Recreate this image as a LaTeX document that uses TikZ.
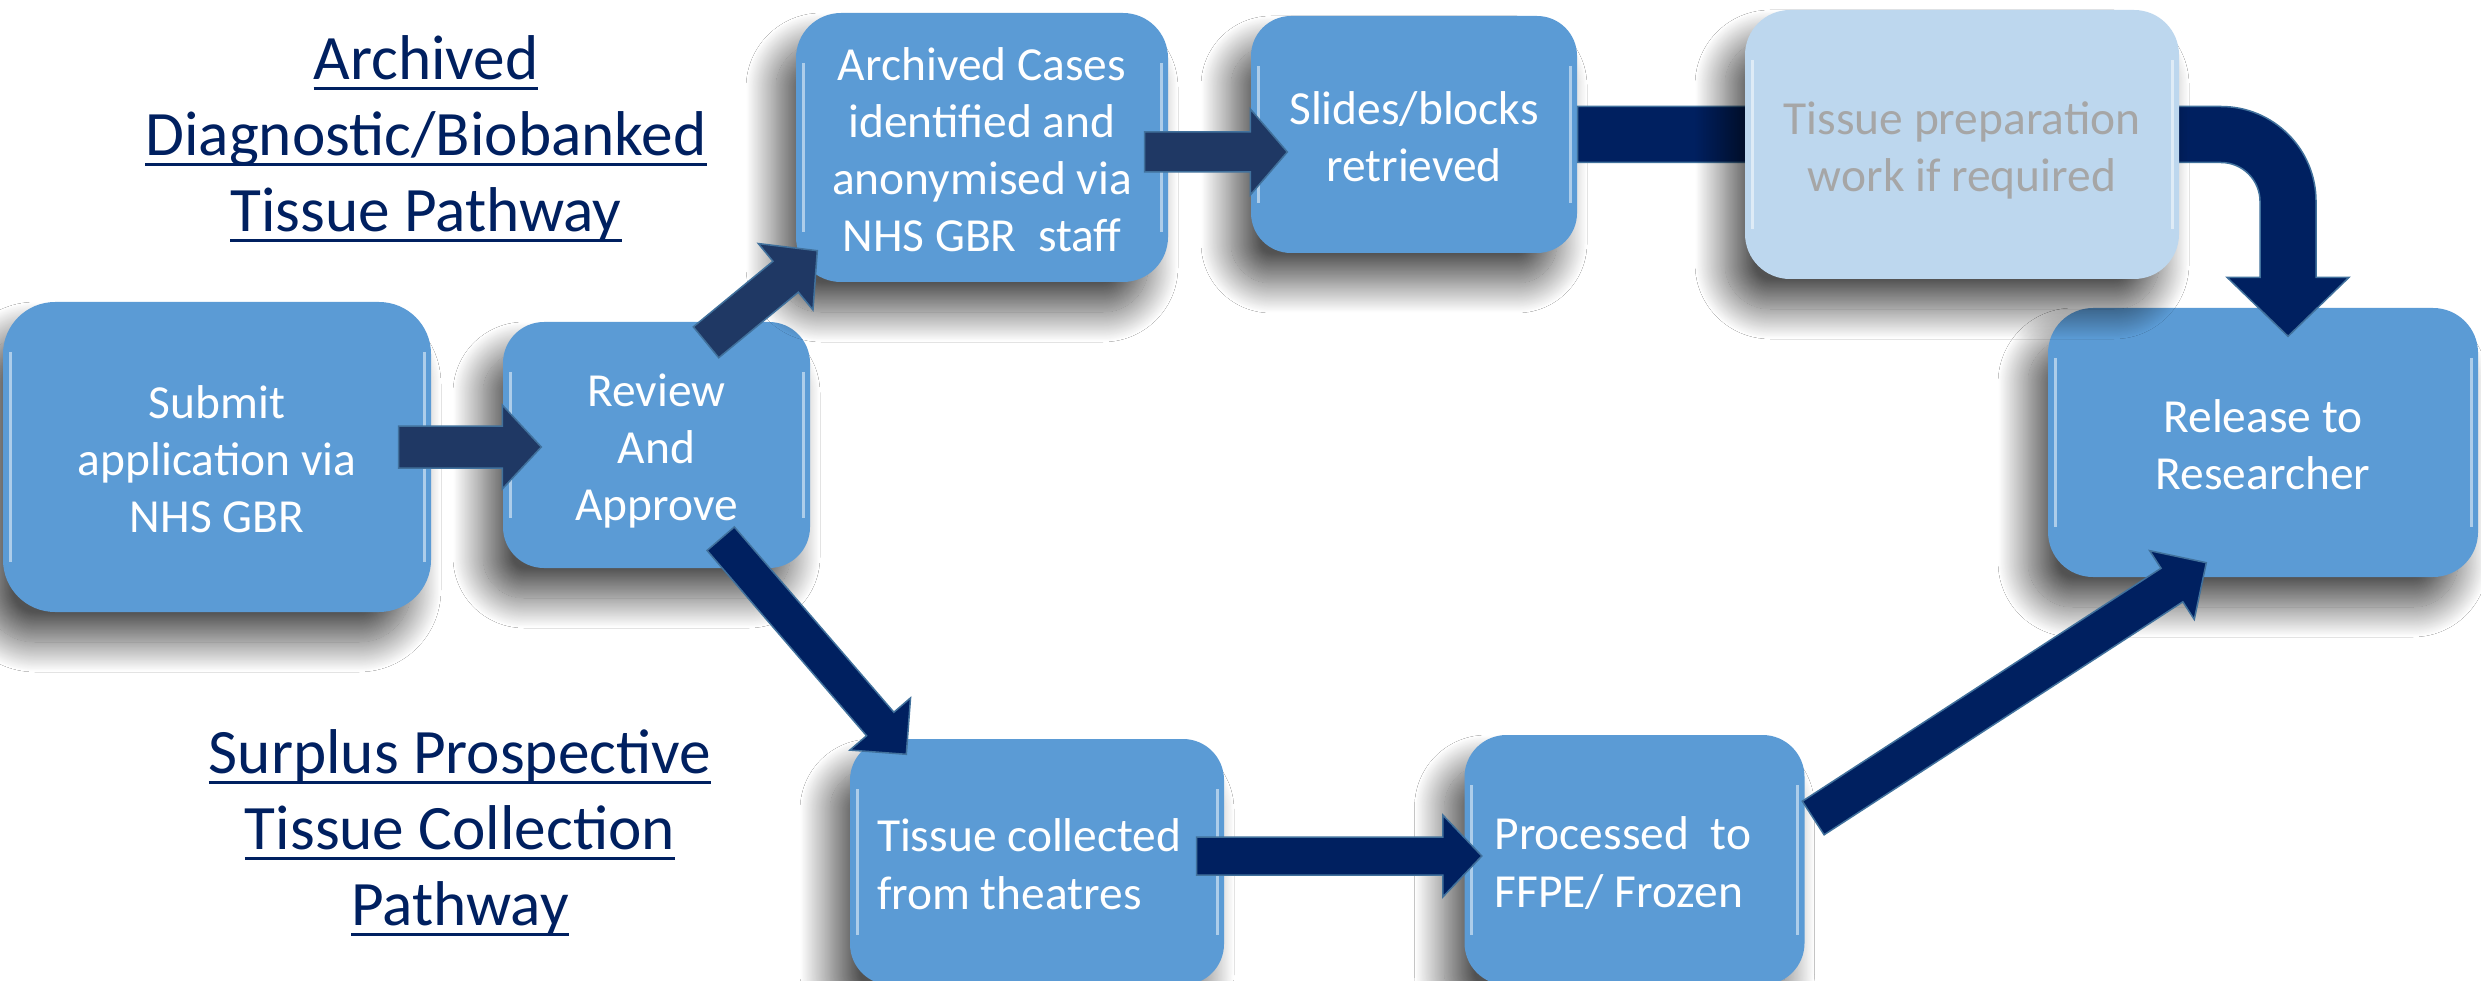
\documentclass[tikz,border=0pt]{standalone}
\usepackage{fontspec}
\setmainfont{Carlito}
\usetikzlibrary{calc,shadows.blur}
\definecolor{boxblue}{HTML}{5B9BD5}
\definecolor{boxlight}{HTML}{BDD7EE}
\definecolor{navy}{HTML}{002060}
\definecolor{slate}{HTML}{1F3864}
\definecolor{edgeblue}{HTML}{41719C}
\definecolor{greytext}{HTML}{A6A6A6}
\newcommand\bxfont{\fontsize{13.5pt}{16.3pt}\selectfont}
\newcommand\hdfont{\fontsize{18pt}{21.6pt}\selectfont}
\newcommand\tstrut{\rule{0pt}{15.4pt}}
\newcommand\dstrut{\rule[-4.9pt]{0pt}{4.9pt}}
\newcommand\hdul[1]{\setbox0\hbox{#1}\rlap{\rule[-3.1pt]{\wd0}{0.9pt}}\box0\strut}
\newcommand\blockarrow[6]{%
  \coordinate (bahead) at ($(#3)!#6!(#2)$);
  \draw[#1] ($(#2)!#4!90:(#3)$) -- ($(bahead)!#4!90:(#3)$) -- ($(bahead)!#5!90:(#3)$)
    -- (#3) -- ($(bahead)!#5!-90:(#3)$) -- ($(bahead)!#4!-90:(#3)$) -- ($(#2)!#4!-90:(#3)$) -- cycle;}
\tikzset{
  procbox/.style={rectangle, fill=boxblue, text=white, font=\bxfont, align=center, inner sep=0pt,
    blur shadow={shadow xshift=-2mm, shadow yshift=-3mm, shadow blur radius=3mm, shadow blur steps=40, shadow opacity=68},
    path picture={
      \draw[white,opacity=0.5,line width=0.3mm]
        ([xshift=0.7mm,yshift=-5mm]path picture bounding box.north west) --
        ([xshift=0.7mm,yshift=5mm]path picture bounding box.south west);
      \draw[white,opacity=0.5,line width=0.3mm]
        ([xshift=-0.7mm,yshift=-5mm]path picture bounding box.north east) --
        ([xshift=-0.7mm,yshift=5mm]path picture bounding box.south east);}},
  lightbox/.style={procbox, fill=boxlight, text=greytext},
  header/.style={text=navy, font=\hdfont, align=center, inner sep=0pt},
  arrowA/.style={fill=slate, draw=edgeblue, line width=0.15mm, line join=miter},
  arrowB/.style={fill=navy, draw=edgeblue, line width=0.15mm, line join=miter},
}
\begin{document}
\begin{tikzpicture}[x=0.1mm,y=-0.1mm]
\useasboundingbox (0,0) rectangle (2481,981);
\fill[white] (0,0) rectangle (2481,981);

% headings
\node[header] (hA) at (426,140) {\hdul{Archived}\\\hdul{Diagnostic/Biobanked}\\\hdul{Tissue Pathway}};
\node[header] (hB) at (460,834) {\hdul{Surplus Prospective}\\\hdul{Tissue Collection}\\\hdul{Pathway}};

% boxes
\node[procbox, minimum width=42.8mm, minimum height=31mm, rounded corners=5.2mm] (sub) at (217,457)
  {\tstrut Submit\\application via\\NHS GBR\dstrut};
\node[procbox, minimum width=30.7mm, minimum height=24.6mm, rounded corners=4.1mm] (rev) at (656.5,445)
  {\tstrut Review\\And\\Approve\dstrut};
\node[procbox, minimum width=37.2mm, minimum height=26.9mm, rounded corners=4.5mm] (arc) at (982,147.5)
  {\tstrut Archived Cases\\identified and\\anonymised via\\NHS GBR\ \ staff\dstrut};
\node[procbox, minimum width=32.6mm, minimum height=23.7mm, rounded corners=4mm] (sli) at (1414,134.5)
  {\tstrut Slides/blocks\\retrieved\dstrut};
\node[procbox, minimum width=43mm, minimum height=26.9mm, rounded corners=4.5mm] (rel) at (2263,442.5)
  {\tstrut Release to\\Researcher\dstrut};
\node[procbox, align=flush left, text width=32mm, inner xsep=2.7mm, minimum height=24.6mm, rounded corners=4.1mm] (col) at (1037,862)
  {\tstrut Tissue collected\\from theatres\dstrut};
\node[procbox, align=flush left, text width=28mm, inner xsep=3mm, minimum height=25mm, rounded corners=4.2mm] (pro) at (1634.5,860)
  {\tstrut Processed\ \ to\\FFPE/ Frozen\dstrut};

% connector points
\coordinate (a1s) at ($(sub.east)+(-33,-10)$);
\coordinate (a1e) at ($(rev.west)+(39,2)$);
\coordinate (a2s) at ($(rev.north)+(49.5,21)$);
\coordinate (a2e) at ($(arc.south west)+(22,-32)$);
\coordinate (a3s) at ($(rev.south east)+(-90,-30)$);
\coordinate (a3e) at ($(col.north west)+(57,16)$);
\coordinate (a4s) at ($(arc.east)+(-24,4.5)$);
\coordinate (a4e) at ($(sli.west)+(37,17.5)$);
\coordinate (a6s) at ($(col.east)+(-28,-6)$);
\coordinate (a6e) at ($(pro.west)+(18,-4)$);
\coordinate (a7s) at ($(pro.east)+(8,-42)$);
\coordinate (a7e) at ($(rel.south west)+(159,-15)$);

\blockarrow{arrowA}{a1s}{a1e}{2.1mm}{4.2mm}{3.9mm}
\blockarrow{arrowA}{a2s}{a2e}{2.0mm}{4.3mm}{4.1mm}
\blockarrow{arrowB}{a3s}{a3e}{1.8mm}{4.0mm}{4.0mm}
\blockarrow{arrowA}{a4s}{a4e}{2.0mm}{4.3mm}{3.7mm}
\blockarrow{arrowB}{a6s}{a6e}{1.9mm}{4.1mm}{3.9mm}
\blockarrow{arrowB}{a7s}{a7e}{2.0mm}{4.1mm}{4.1mm}

% curved connector from slides to release (behind the optional preparation step)
\coordinate (cs) at (sli.east);
\coordinate (ce) at ($(rel.north)+(25,29)$);
\coordinate (ck) at (cs -| ce);
\draw[arrowB] ($(cs)+(0,-28)$) -- ($(ck)+(-67,-28)$)
  .. controls ($(ck)+(-14.5,-28)$) and ($(ck)+(28,14.5)$) .. ($(ck)+(28,67)$)
  -- ($(ce)+(28,-59)$) -- ($(ce)+(61,-59)$) -- (ce) -- ($(ce)+(-61,-59)$) -- ($(ce)+(-28,-59)$)
  -- ($(ck)+(-28,67)$)
  .. controls ($(ck)+(-28,45.5)$) and ($(ck)+(-45.5,28)$) .. ($(ck)+(-67,28)$)
  -- ($(cs)+(0,28)$) -- cycle;

\node[lightbox, minimum width=43.4mm, minimum height=26.9mm, rounded corners=4.5mm] (prep) at (1962,144.5)
  {\tstrut Tissue preparation\\work if required\dstrut};
\end{tikzpicture}
\end{document}
